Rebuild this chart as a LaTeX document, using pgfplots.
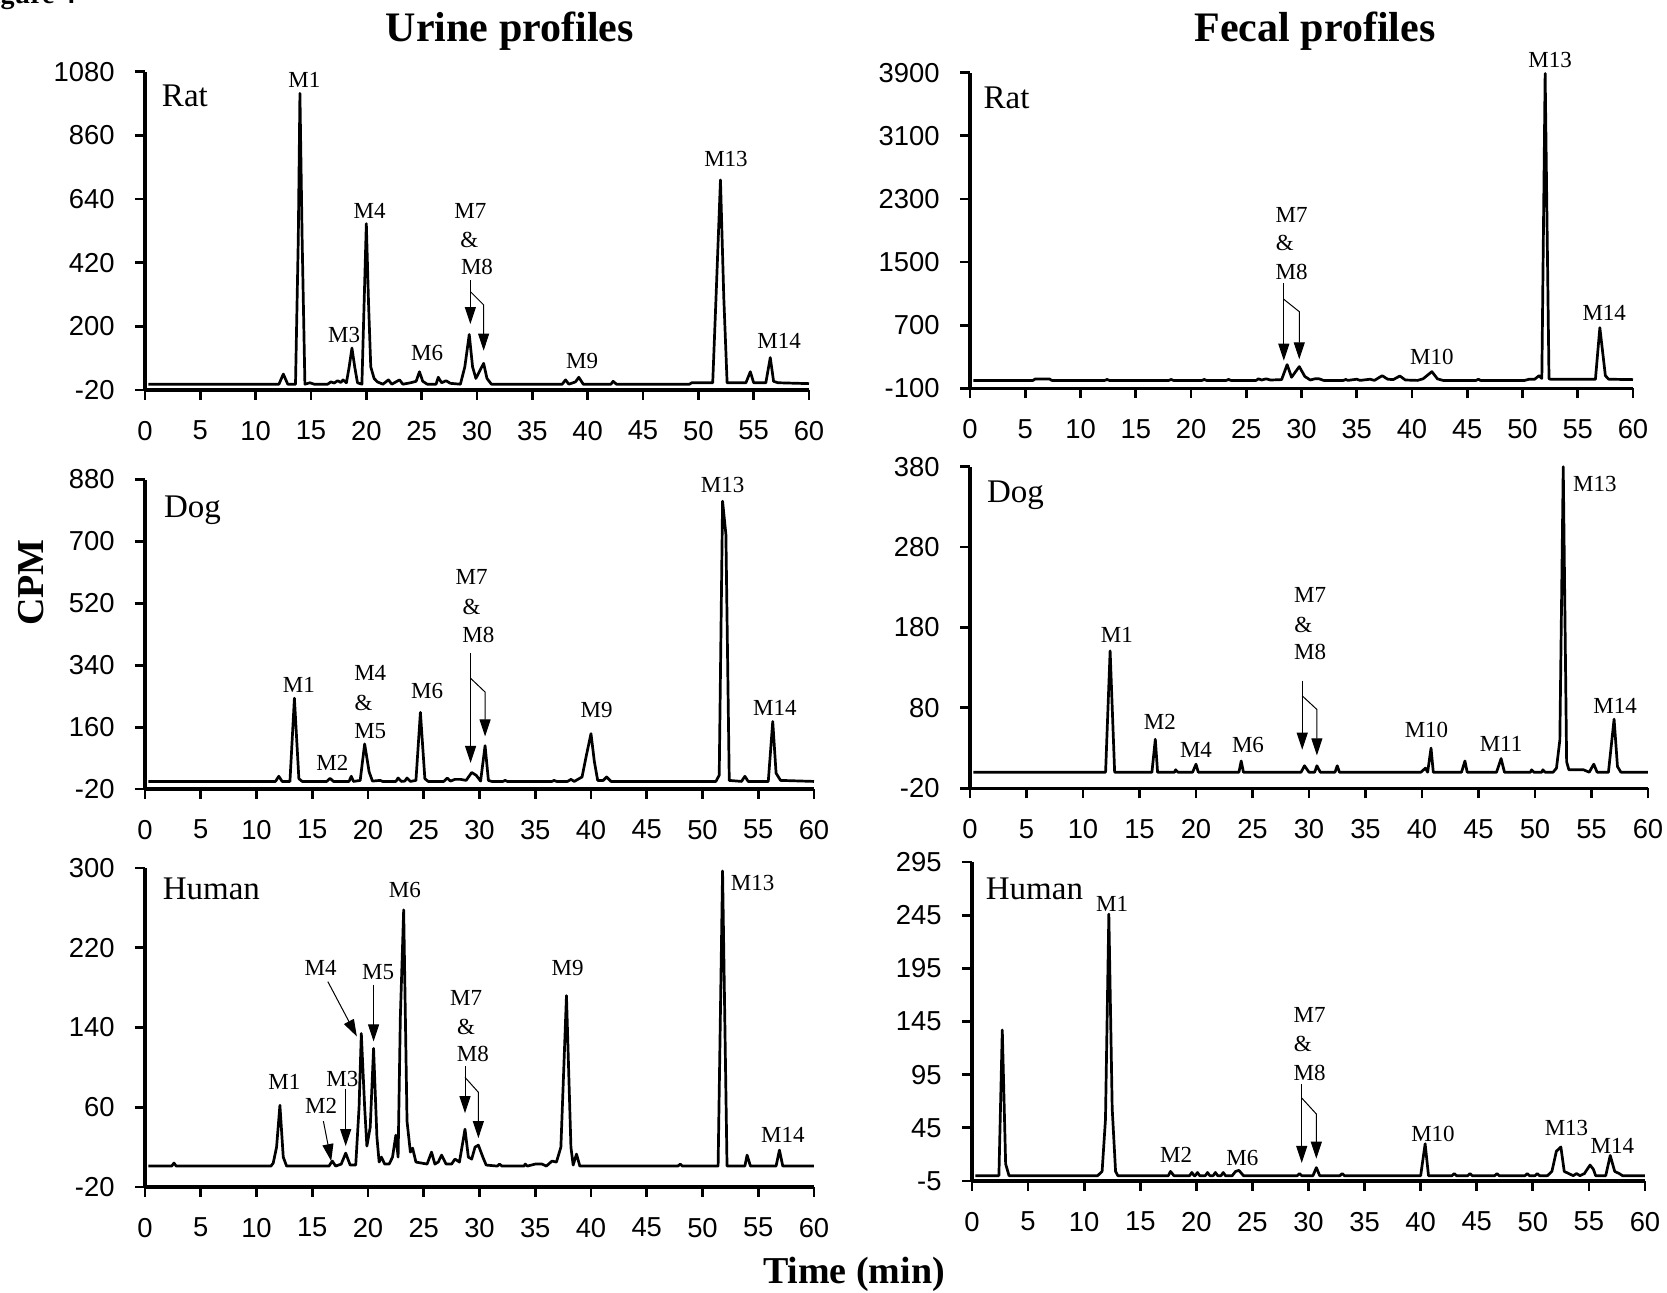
\documentclass[border=0pt]{standalone}
\usepackage{pgfplots}
\pgfplotsset{compat=1.18}
\usepackage{fontspec}
\setmainfont{Liberation Serif}
\newfontfamily\arial{Liberation Sans}
\usetikzlibrary{arrows.meta}
\pgfplotsset{
  chrom/.style={
    scale only axis,
    anchor=south west,
    xmin=0, xmax=60,
    xtick={0,5,...,60},
    axis lines*=left,
    axis line style={line width=1.6pt, black},
    every outer x axis line/.append style={line width=1.6pt},
    every outer y axis line/.append style={line width=1.6pt},
    tick align=outside,
    major tick length=5pt,
    major tick style={black, line width=1.4pt},
    tick label style={font=\arial\fontsize{13.7}{15}\selectfont},
    /pgf/number format/assume math mode=true,
    /pgf/number format/1000 sep={},
    xticklabel style={yshift=-7pt},
    yticklabel style={xshift=-6.7pt},
    scaled y ticks=false,
    clip=false,
  },
  tr/.style={black, line width=1.35pt, line join=round, mark=none},
}
\tikzset{
  lab/.style={font=\fontsize{11.5}{12}\selectfont, inner sep=0pt},
  sp/.style={font=\fontsize{16.5}{18}\selectfont, anchor=base west, inner sep=0pt},
  arr/.style={-{Triangle[width=5.5pt,length=8.5pt]}, line width=0.5pt},
  ln/.style={line width=0.5pt},
}
\begin{document}
\begin{tikzpicture}
\useasboundingbox (0,0) rectangle (833.5pt,646pt);

% ---------------- Urine, Rat ----------------
\begin{axis}[chrom, at={(72.5pt,451pt)}, width=332pt, height=159.15pt,
  ymin=-20, ymax=1080, ytick={-20,200,420,640,860,1080}]
\addplot[tr] coordinates {(0.3,0) (12.1,0) (12.5,35) (12.9,0) (13.6,0) (13.85,500) (14.0,1005) (14.2,500) (14.45,0) (14.9,5) (15.3,0) (16.5,0) (16.8,8) (17.1,4) (17.4,12) (17.7,6) (17.9,15) (18.2,5) (18.45,60) (18.7,125) (18.95,60) (19.2,5) (19.6,0) (19.8,280) (20.0,555) (20.2,280) (20.4,60) (20.7,20) (21.0,8) (21.5,0) (22.0,15) (22.3,0) (23.0,15) (23.3,0) (24.0,5) (24.5,10) (24.8,43) (25.1,10) (25.5,0) (26.3,0) (26.5,24) (26.8,5) (27.2,12) (27.6,3) (28.5,0) (28.9,60) (29.3,172) (29.6,60) (29.9,20) (30.3,50) (30.6,72) (30.9,20) (31.3,0) (37.7,0) (38.0,15) (38.3,0) (38.9,8) (39.2,24) (39.6,0) (42.1,0) (42.3,10) (42.6,0) (49.2,0) (49.4,5) (51.3,5) (51.6,300) (52.0,706) (52.3,300) (52.6,5) (54.3,5) (54.7,43) (55.0,5) (56.1,5) (56.5,92) (56.8,10) (57.2,5) (60,2)};
\node[sp] at (rel axis cs:0.025,0.891) {Rat};
\node[lab] at (axis cs:14.4,1051) {M1};
\node[lab] at (axis cs:18.0,170) {M3};
\node[lab] at (axis cs:20.3,600) {M4};
\node[lab] at (axis cs:25.5,107) {M6};
\node[lab] at (axis cs:29.4,600) {M7};
\node[lab] at (axis cs:29.3,498) {\&};
\node[lab] at (axis cs:30.0,406) {M8};
\node[lab] at (axis cs:39.5,81) {M9};
\node[lab] at (axis cs:52.5,777) {M13};
\node[lab] at (axis cs:57.3,150) {M14};
\draw[ln] (axis cs:29.4,360) -- (axis cs:29.4,320);
\draw[arr] (axis cs:29.4,320) -- (axis cs:29.4,208);
\draw[arr] (axis cs:29.4,320) -- (axis cs:30.6,274) -- (axis cs:30.6,116);
\end{axis}

% ---------------- Fecal, Rat ----------------
\begin{axis}[chrom, at={(485pt,451.85pt)}, width=331.5pt, height=157.8pt,
  ymin=-100, ymax=3900, ytick={-100,700,1500,2300,3100,3900}]
\addplot[tr] coordinates {(0.3,0) (5.7,0) (5.9,18) (7.2,18) (7.4,0) (12.2,0) (12.4,12) (12.6,0) (18.0,0) (18.2,12) (18.4,0) (21.0,0) (21.2,12) (21.4,0) (23.2,0) (23.4,12) (23.6,0) (25.9,0) (26.1,20) (26.4,5) (26.8,20) (27.2,5) (28.2,10) (28.7,200) (29.1,40) (29.8,175) (30.3,50) (30.8,5) (31.2,20) (31.6,20) (32.0,0) (33.8,0) (34.0,12) (34.2,0) (35.0,15) (35.3,0) (36.2,15) (36.6,0) (37.3,60) (37.8,15) (38.3,10) (38.9,56) (39.4,5) (40.5,0) (41.0,20) (41.8,111) (42.3,20) (42.8,0) (45.8,0) (46.0,15) (46.2,0) (50.2,0) (50.6,15) (51.1,15) (51.5,60) (51.75,25) (52.05,3890) (52.4,20) (52.6,14) (56.6,14) (57.0,669) (57.5,60) (57.8,15) (60,10)};
\node[sp] at (rel axis cs:0.020,0.887) {Rat};
\node[lab] at (axis cs:29.1,2096) {M7};
\node[lab] at (axis cs:28.5,1737) {\&};
\node[lab] at (axis cs:29.1,1378) {M8};
\node[lab] at (axis cs:41.8,293) {M10};
\node[lab] at (axis cs:52.5,4060) {M13};
\node[lab] at (axis cs:57.4,850) {M14};
\draw[ln] (axis cs:28.4,1230) -- (axis cs:28.4,1028);
\draw[arr] (axis cs:28.4,1028) -- (axis cs:28.4,250);
\draw[arr] (axis cs:28.4,1028) -- (axis cs:29.8,871) -- (axis cs:29.8,267);
\end{axis}

% ---------------- Urine, Dog ----------------
\begin{axis}[chrom, at={(72.5pt,251.5pt)}, width=334.5pt, height=154.75pt,
  ymin=-20, ymax=880, ytick={-20,160,340,520,700,880}]
\addplot[tr] coordinates {(0.3,2) (11.7,2) (12.0,17) (12.3,2) (13.0,2) (13.4,244) (13.8,10) (14.1,2) (16.3,2) (16.6,11) (16.9,2) (18.3,2) (18.5,17) (18.7,2) (19.3,5) (19.7,111) (20.1,30) (20.4,3) (21.1,5) (21.3,2) (22.5,2) (22.7,12) (23.0,2) (23.3,3) (23.5,12) (23.8,2) (24.3,5) (24.7,203) (25.1,10) (25.4,2) (26.8,2) (27.1,12) (27.4,3) (27.8,8) (28.3,8) (28.8,5) (29.3,28) (29.7,20) (30.1,3) (30.5,106) (30.8,5) (31.1,2) (32.1,2) (32.3,5) (32.5,2) (36.5,2) (36.7,5) (36.9,2) (37.9,2) (38.2,8) (38.5,2) (39.2,15) (39.6,80) (40.0,141) (40.3,60) (40.6,5) (41.1,5) (41.4,15) (41.8,2) (51.2,2) (51.5,20) (51.8,817) (52.1,720) (52.4,5) (53.5,2) (53.8,17) (54.1,2) (55.9,2) (56.3,176) (56.6,26) (57.0,5) (60,2)};
\node[sp] at (rel axis cs:0.028,0.877) {Dog};
\node[lab] at (axis cs:13.8,283) {M1};
\node[lab] at (axis cs:16.8,57) {M2};
\node[lab] at (axis cs:20.2,317) {M4};
\node[lab] at (axis cs:19.6,230) {\&};
\node[lab] at (axis cs:20.2,147) {M5};
\node[lab] at (axis cs:25.3,264) {M6};
\node[lab] at (axis cs:29.3,598) {M7};
\node[lab] at (axis cs:29.3,510) {\&};
\node[lab] at (axis cs:29.9,428) {M8};
\node[lab] at (axis cs:40.5,210) {M9};
\node[lab] at (axis cs:51.8,864) {M13};
\node[lab] at (axis cs:56.5,215) {M14};
\draw[ln] (axis cs:29.2,375) -- (axis cs:29.2,302);
\draw[arr] (axis cs:29.2,302) -- (axis cs:29.2,56);
\draw[arr] (axis cs:29.2,302) -- (axis cs:30.5,262) -- (axis cs:30.5,133);
\end{axis}

% ---------------- Fecal, Dog ----------------
\begin{axis}[chrom, at={(485pt,251.85pt)}, width=339pt, height=160.8pt,
  ymin=-20, ymax=380, ytick={-20,80,180,280,380}]
\addplot[tr] coordinates {(0.3,0) (12.0,0) (12.4,151) (12.8,0) (16.1,0) (16.4,41) (16.6,0) (18.1,0) (18.2,3) (18.4,0) (19.7,0) (20.0,10) (20.2,0) (23.8,0) (24.0,14) (24.2,0) (29.3,0) (29.6,8) (30.0,0) (30.5,0) (30.7,8) (31.0,0) (32.3,0) (32.5,8) (32.7,0) (39.9,0) (40.3,5) (40.5,0) (40.8,30) (41.0,0) (43.5,0) (43.8,14) (44.0,0) (46.6,0) (47.0,17) (47.3,0) (49.6,0) (49.7,3) (49.9,0) (50.6,0) (50.7,3) (50.9,0) (51.6,0) (51.9,5) (52.2,40) (52.5,380) (52.8,13) (53.0,3) (53.4,3) (54.3,3) (54.8,0) (55.2,10) (55.5,0) (56.5,0) (57.0,66) (57.3,7) (57.6,0) (60,0)};
\node[sp] at (rel axis cs:0.0245,0.888) {Dog};
\node[lab] at (axis cs:13.0,171) {M1};
\node[lab] at (axis cs:16.8,63) {M2};
\node[lab] at (axis cs:20.0,28) {M4};
\node[lab] at (axis cs:24.6,34) {M6};
\node[lab] at (axis cs:30.1,220) {M7};
\node[lab] at (axis cs:29.5,183) {\&};
\node[lab] at (axis cs:30.1,150) {M8};
\node[lab] at (axis cs:40.4,52) {M10};
\node[lab] at (axis cs:47.0,35) {M11};
\node[lab] at (axis cs:55.3,358) {M13};
\node[lab] at (axis cs:57.1,82) {M14};
\draw[ln] (axis cs:29.4,114) -- (axis cs:29.4,95);
\draw[arr] (axis cs:29.4,95) -- (axis cs:29.4,28);
\draw[arr] (axis cs:29.4,95) -- (axis cs:30.7,78) -- (axis cs:30.7,21);
\end{axis}

% ---------------- Urine, Human ----------------
\begin{axis}[chrom, at={(72.5pt,52.5pt)}, width=334.5pt, height=159.5pt,
  ymin=-20, ymax=300, ytick={-20,60,140,220,300}]
\addplot[tr] coordinates {(0.3,1) (2.4,1) (2.6,4) (2.8,1) (11.3,1) (11.5,4) (11.8,20) (12.1,62) (12.4,10) (12.7,1) (16.5,1) (16.8,6) (17.1,1) (17.6,3) (18.0,14) (18.4,2) (18.9,2) (19.2,60) (19.4,134) (19.7,60) (19.9,21) (20.2,40) (20.5,119) (20.8,30) (21.0,5) (21.2,10) (21.5,3) (21.9,3) (22.2,10) (22.5,32) (22.7,10) (22.9,150) (23.2,258) (23.5,46) (23.8,15) (24.0,19) (24.3,5) (25.3,3) (25.7,15) (26.0,3) (26.3,5) (26.6,12) (27.0,3) (27.5,3) (27.8,8) (28.2,5) (28.7,38) (29.0,10) (29.3,8) (29.6,20) (29.9,22) (30.3,10) (30.6,2) (31.6,1) (31.8,3) (32.0,1) (34.0,1) (34.1,3) (34.3,1) (35.0,3) (35.6,3) (36.0,1) (36.5,6) (36.9,5) (37.3,20) (37.8,172) (38.2,20) (38.4,2) (38.7,13) (39.0,1) (47.8,1) (48.0,3) (48.2,1) (51.4,1) (51.8,297) (52.2,1) (53.8,1) (54.0,12) (54.3,1) (56.6,1) (56.9,17) (57.2,1) (60,1)};
\node[sp] at (rel axis cs:0.026,0.90) {Human};
\node[lab] at (axis cs:12.5,85) {M1};
\node[lab] at (axis cs:15.8,61) {M2};
\draw[arr] (axis cs:16.0,46) -- (axis cs:16.7,6);
\node[lab] at (axis cs:17.7,88) {M3};
\draw[arr] (axis cs:18.0,78) -- (axis cs:18.0,21);
\node[lab] at (axis cs:15.75,200) {M4};
\draw[arr] (axis cs:16.4,186) -- (axis cs:19.0,131);
\node[lab] at (axis cs:20.9,196) {M5};
\draw[arr] (axis cs:20.5,183) -- (axis cs:20.5,126);
\node[lab] at (axis cs:23.3,278) {M6};
\node[lab] at (axis cs:28.8,170) {M7};
\node[lab] at (axis cs:28.8,141) {\&};
\node[lab] at (axis cs:29.4,113) {M8};
\node[lab] at (axis cs:37.9,200) {M9};
\node[lab] at (axis cs:54.5,285) {M13};
\node[lab] at (axis cs:57.2,32) {M14};
\draw[ln] (axis cs:28.7,101) -- (axis cs:28.7,90);
\draw[arr] (axis cs:28.7,90) -- (axis cs:28.7,54);
\draw[arr] (axis cs:28.7,90) -- (axis cs:29.9,75) -- (axis cs:29.9,29);
\end{axis}

% ---------------- Fecal, Human ----------------
\begin{axis}[chrom, at={(486pt,55.5pt)}, width=336.5pt, height=159.5pt,
  ymin=-5, ymax=295, ytick={-5,45,95,145,195,245,295}]
\addplot[tr] coordinates {(0.3,0) (2.4,0) (2.7,137) (3.0,11) (3.3,0) (11.2,0) (11.6,4) (11.9,53) (12.2,246) (12.5,63) (12.8,4) (13.0,0) (17.5,0) (17.7,4) (18.0,0) (19.4,0) (19.6,3) (19.8,0) (19.9,0) (20.1,3) (20.3,0) (20.8,0) (21.0,3) (21.2,0) (21.5,0) (21.7,3) (21.9,0) (22.2,0) (22.4,3) (22.6,0) (23.2,0) (23.5,4) (23.8,5) (24.2,0) (29.0,0) (29.2,2) (29.4,0) (30.4,0) (30.7,7.6) (31.0,0) (32.8,0) (33.0,2) (33.2,0) (40.0,0) (40.4,30) (40.7,0) (42.8,0) (43.0,2) (43.2,0) (44.2,0) (44.4,2) (44.6,0) (46.6,0) (46.8,2) (47.0,0) (49.3,0) (49.5,2) (49.7,0) (50.2,0) (50.4,2) (50.6,0) (51.3,0) (51.7,4) (52.1,23) (52.5,27) (52.8,4) (53.2,2) (53.6,0) (53.9,2) (54.2,0) (54.6,2) (55.1,10) (55.4,6) (55.6,0) (56.5,0) (56.9,19) (57.3,4) (57.7,2) (58.0,0) (60,0)};
\node[sp] at (rel axis cs:0.020,0.883) {Human};
\node[lab] at (axis cs:12.5,256) {M1};
\node[lab] at (axis cs:18.2,20) {M2};
\node[lab] at (axis cs:24.1,17) {M6};
\node[lab] at (axis cs:30.1,151) {M7};
\node[lab] at (axis cs:29.5,124) {\&};
\node[lab] at (axis cs:30.1,97) {M8};
\node[lab] at (axis cs:41.1,39) {M10};
\node[lab] at (axis cs:53.0,45) {M13};
\node[lab] at (axis cs:57.1,28) {M14};
\draw[ln] (axis cs:29.4,86) -- (axis cs:29.4,73);
\draw[arr] (axis cs:29.4,73) -- (axis cs:29.4,12);
\draw[arr] (axis cs:29.4,73) -- (axis cs:30.7,58) -- (axis cs:30.7,16);
\end{axis}

% ---------------- titles ----------------
\node[anchor=base, font=\bfseries\fontsize{21}{24}\selectfont] at (254.9pt,625.15pt) {Urine profiles};
\node[anchor=base, font=\bfseries\fontsize{21}{24}\selectfont] at (657.5pt,625.15pt) {Fecal profiles};
\node[anchor=base, rotate=90, font=\bfseries\fontsize{19}{22}\selectfont] at (21.5pt,354.75pt) {CPM};
\node[anchor=base, font=\bfseries\fontsize{19}{22}\selectfont] at (427pt,4.5pt) {Time (min)};
\node[anchor=base east, inner sep=0pt, font=\bfseries\fontsize{14}{16}\selectfont] at (38pt,644.25pt) {Figure 4};
\end{tikzpicture}
\end{document}
